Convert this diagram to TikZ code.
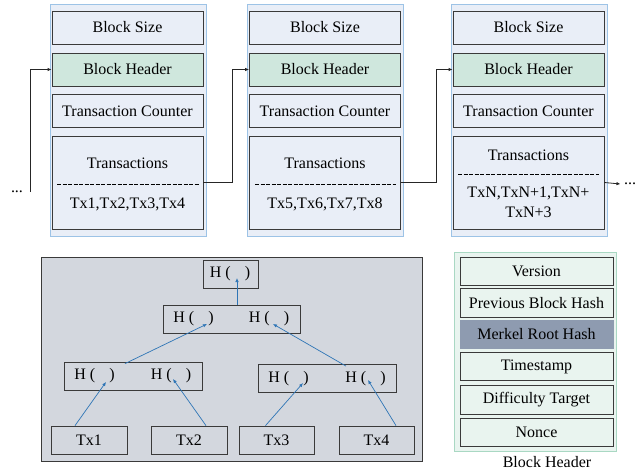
\documentclass[tikz,border=0pt]{standalone}
\usepackage{fontspec}
\setmainfont{LiberationSerif-Regular.ttf}
\usetikzlibrary{arrows.meta, positioning}
\definecolor{blockbg}{HTML}{E9EEF7}
\definecolor{blockline}{HTML}{9DC3E6}
\definecolor{fieldline}{HTML}{3A3A3A}
\definecolor{hdrgreen}{HTML}{CFE7DD}
\definecolor{treebg}{HTML}{D3D7DE}
\definecolor{hashblue}{HTML}{2E75B6}
\definecolor{panelbg}{HTML}{E9F4EF}
\definecolor{panelline}{HTML}{A9D8C3}
\definecolor{rootfill}{HTML}{8E9BB0}

\begin{document}
\begin{tikzpicture}[x=1pt, y=-1pt, font=\rmfamily\fontsize{16}{19}\selectfont,
  blockframe/.style={draw=blockline, fill=blockbg, line width=0.8pt, minimum width=156, minimum height=232, inner sep=0pt},
  field/.style={draw=fieldline, fill=blockbg, line width=0.8pt, minimum width=151, minimum height=33, inner sep=0pt},
  headerfield/.style={field, fill=hdrgreen},
  txfield/.style={field, minimum height=93},
  chain/.style={draw=black!85, line width=0.8pt, -{Latex[length=4pt, width=3.5pt]}},
  treebox/.style={draw=fieldline, fill=treebg, line width=0.8pt, minimum height=28, inner sep=0pt},
  hash/.style={inner sep=0pt},
  hashlink/.style={draw=hashblue, line width=0.7pt, -{Latex[length=4pt, width=3.5pt]}},
  hdrfield/.style={draw=fieldline, fill=panelbg, line width=0.8pt, minimum width=153, minimum height=28.5, inner sep=0pt}]
  \useasboundingbox (0,0) rectangle (641,471);

  % blocks of the chain
  \node[blockframe] (b1) at (128,120) {};
  \node[field] (s1) at (127.5,27.5) {Block Size};
  \node[headerfield] (h1) at (127.5,69.5) {Block Header};
  \node[field] (c1) at (127.5,111) {Transaction Counter};
  \node[txfield] (t1) at (127.5,182.5) {};
  \node (tl1) at (127.5,163) {Transactions};
  \draw[dash pattern=on 4pt off 1.5pt, line width=0.7pt] (57,184) -- (199,184);
  \node (tx1) at (127.5,204) {Tx1,Tx2,Tx3,Tx4};

  \node[blockframe] (b2) at (325,120) {};
  \node[field] (s2) at (325,27.5) {Block Size};
  \node[headerfield] (h2) at (325,69.5) {Block Header};
  \node[field] (c2) at (325,111) {Transaction Counter};
  \node[txfield] (t2) at (325,182.5) {};
  \node (tl2) at (325,163) {Transactions};
  \draw[dash pattern=on 4pt off 1.5pt, line width=0.7pt] (255,184) -- (396,184);
  \node (tx2) at (325,204) {Tx5,Tx6,Tx7,Tx8};

  \node[blockframe] (b3) at (529,120) {};
  \node[field] (s3) at (528.5,27.5) {Block Size};
  \node[headerfield] (h3) at (528.5,69.5) {Block Header};
  \node[field] (c3) at (528.5,111) {Transaction Counter};
  \node[txfield] (t3) at (528.5,182.5) {};
  \node (tl3) at (528.5,155) {Transactions};
  \draw[dash pattern=on 4pt off 1.5pt, line width=0.7pt] (458,174) -- (599,174);
  \node (tx3) at (528.5,193) {TxN,TxN+1,TxN+};
  \node (tx3b) at (528.5,212) {TxN+3};

  % links between blocks
  \node (dots0) at (17,192) {...};
  \node (dots4) at (630,184) {...};
  \coordinate (start) at (30,192);
  \draw[chain] (start) |- (h1.west);
  \draw[chain] (t1.east) -- ++(29,0) |- (h2.west);
  \draw[chain] (t2.east) -- ++(35,0) |- (h3.west);
  \draw[chain] (t3.east) -- (dots4.west);

  % merkel tree
  \node[draw=fieldline, fill=treebg, line width=0.8pt, minimum width=381, minimum height=204] (tree) at (231.5,359) {};
  \node[treebox, minimum width=55] (root) at (230.5,274) {};
  \node[hash] (hr) at (230,274) {H (\hspace{14pt})};
  \node[treebox, minimum width=137] (mid) at (231.5,319) {};
  \node[hash] (hm1) at (193.5,319) {H (\hspace{14pt})};
  \node[hash] (hm2) at (269,319) {H (\hspace{14pt})};
  \node[treebox, minimum width=138] (low1) at (133,376) {};
  \node[hash] (hl1) at (94.5,376) {H (\hspace{14pt})};
  \node[hash] (hl2) at (171,376) {H (\hspace{14pt})};
  \node[treebox, minimum width=138] (low2) at (327,378.5) {};
  \node[hash] (hl3) at (288.5,378.5) {H (\hspace{14pt})};
  \node[hash] (hl4) at (365.5,378.5) {H (\hspace{14pt})};
  \node[treebox, minimum width=76] (leaf1) at (89,440) {Tx1};
  \node[treebox, minimum width=76] (leaf2) at (189,440) {Tx2};
  \node[treebox, minimum width=75] (leaf3) at (276.5,440) {Tx3};
  \node[treebox, minimum width=75] (leaf4) at (376.5,440) {Tx4};

  \coordinate (pr) at (237,278);
  \coordinate (pm1) at (207,324);
  \coordinate (pm2) at (273,324);
  \coordinate (pl1) at (106,382);
  \coordinate (pl2) at (173,379);
  \coordinate (pl3) at (303,383);
  \coordinate (pl4) at (368,380);

  \draw[hashlink] ([xshift=-14]leaf1.north) -- (pl1);
  \draw[hashlink] ([xshift=17]leaf2.north) -- (pl2);
  \draw[hashlink] ([xshift=-11]leaf3.north) -- (pl3);
  \draw[hashlink] ([xshift=19.5]leaf4.north) -- (pl4);
  \draw[hashlink] ([xshift=-8,yshift=-2]low1.north) -- (pm1);
  \draw[hashlink] ([xshift=19,yshift=-2]low2.north) -- (pm2);
  \draw[hashlink] ([xshift=5.5]mid.north) -- (pr);

  % block header fields
  \node[draw=panelline, fill=panelbg, line width=0.8pt, minimum width=162, minimum height=199] (panel) at (535,351.5) {};
  \node[hdrfield] (version) at (536.5,271.5) {Version};
  \node[hdrfield] (prev) at (536.5,303) {Previous Block Hash};
  \node[hdrfield, draw=rootfill, fill=rootfill] (mroot) at (536.5,334.5) {Merkel Root Hash};
  \node[hdrfield] (stamp) at (536.5,366.5) {Timestamp};
  \node[hdrfield] (target) at (536.5,400) {Difficulty Target};
  \node[hdrfield] (nonce) at (536.5,432.5) {Nonce};
  \node (caption) at (547,462) {Block Header};
\end{tikzpicture}
\end{document}
